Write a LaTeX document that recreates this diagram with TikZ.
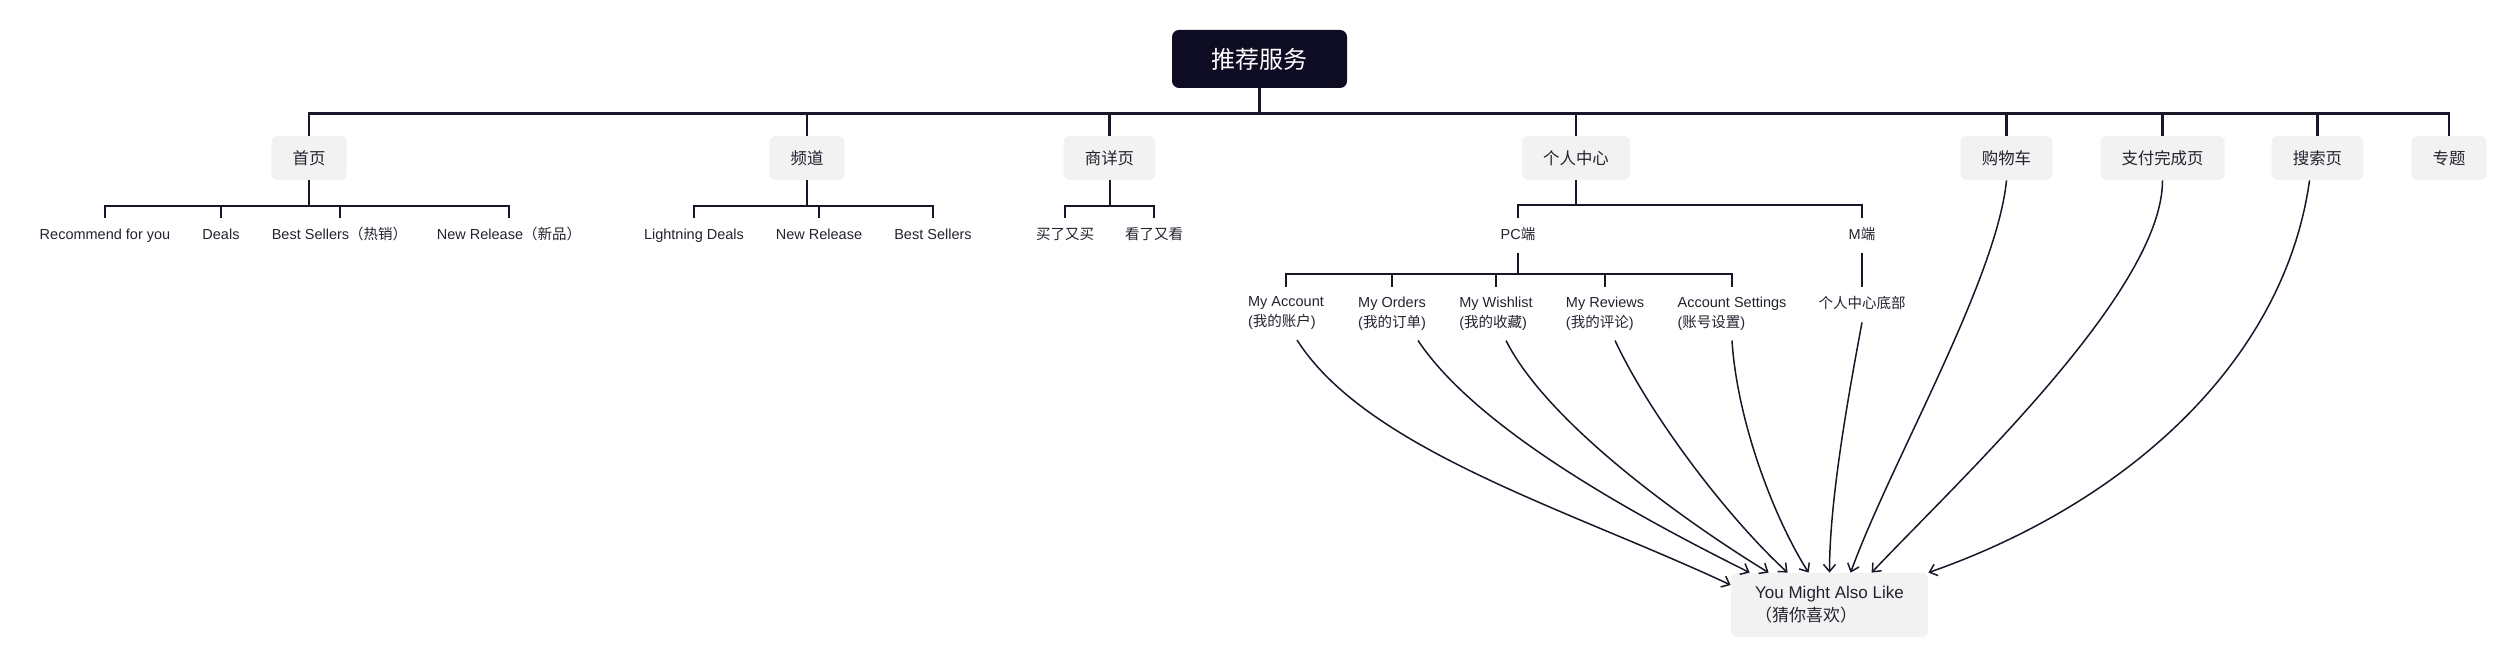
\documentclass[tikz,border=0pt]{standalone}
\usepackage{fontspec}
\setmainfont{Liberation Sans}
\newfontfamily\cjk{Noto Sans CJK SC}
\newcommand{\zh}[1]{{\cjk #1}}
\usetikzlibrary{arrows.meta}
\definecolor{navy}{HTML}{0E0C22}
\definecolor{ink}{HTML}{17172A}
\definecolor{boxgray}{HTML}{F2F2F2}
\definecolor{txt}{HTML}{23232F}
\begin{document}
\begin{tikzpicture}
[x=0.5pt,y=-0.5pt,
 >={Straight Barb[length=3.5pt,width=6pt]},
 rootbox/.style={fill=navy,text=white,rounded corners=3.5pt,minimum width=87.5pt,minimum height=29pt,font=\cjk\fontsize{12}{14}\selectfont},
 pagebox/.style={fill=boxgray,text=txt,rounded corners=3pt,minimum height=22pt,inner xsep=10.6pt,font=\cjk\fontsize{8.2}{10}\selectfont},
 leaftext/.style={text=txt,inner xsep=2pt,inner ysep=5pt,text height=6pt,text depth=1.5pt,font=\fontsize{7.25}{10}\selectfont},
 itemtext/.style={text=txt,align=left,anchor=north,inner xsep=2pt,inner ysep=4.8pt,font=\fontsize{7.25}{10}\selectfont},
 guessbox/.style={fill=boxgray,text=txt,rounded corners=3pt,align=left,minimum width=98.5pt,minimum height=32pt,inner xsep=11pt,font=\fontsize{8.5}{11.5}\selectfont},
 bus/.style={draw=ink,line width=1pt},
 flow/.style={draw=ink,line width=0.75pt,->}]
\useasboundingbox (0,0) rectangle (2517,667);

\node[rootbox] (rec) at (1259.5,59) {推荐服务};
\node[pagebox] (home) at (309,158) {首页};
\node[pagebox] (chan) at (807,158) {频道};
\node[pagebox] (detail) at (1109.5,158) {商详页};
\node[pagebox] (mine) at (1576,158) {个人中心};
\node[pagebox] (cart) at (2006.5,158) {购物车};
\node[pagebox] (paid) at (2162.5,158) {支付完成页};
\node[pagebox] (search) at (2317.5,158) {搜索页};
\node[pagebox] (topic) at (2449,158) {专题};

\node[leaftext] (rfy) at (105,235.5) {Recommend for you};
\node[leaftext] (deals) at (221,235.5) {Deals};
\node[leaftext] (best) at (339.5,235.5) {Best Sellers\zh{（热销）}};
\node[leaftext] (newr) at (509,235.5) {New Release\zh{（新品）}};
\node[leaftext] (light) at (694,235.5) {Lightning Deals};
\node[leaftext] (newc) at (819,235.5) {New Release};
\node[leaftext] (bestc) at (933,235.5) {Best Sellers};
\node[leaftext] (bought) at (1065,235.5) {\zh{买了又买}};
\node[leaftext] (viewed) at (1154,235.5) {\zh{看了又看}};
\node[leaftext] (pc) at (1518,235.5) {PC\zh{端}};
\node[leaftext] (mob) at (1862,235.5) {M\zh{端}};

\node[itemtext] (acct) at (1286,287) {My Account\\(\zh{我的账户})};
\node[itemtext] (orders) at (1392,287) {My Orders\\(\zh{我的订单})};
\node[itemtext] (wish) at (1496,287) {My Wishlist\\(\zh{我的收藏})};
\node[itemtext] (review) at (1605,287) {My Reviews\\(\zh{我的评论})};
\node[itemtext] (setting) at (1732,287) {Account Settings\\(\zh{账号设置})};
\node[leaftext] (bottom) at (1862,304.5) {\zh{个人中心底部}};

\node[guessbox] (like) at (1829.5,605) {You Might Also Like\\\zh{（猜你喜欢）}};

\foreach \p in {home,chan,detail,mine,cart,paid,search,topic}
  \draw[bus,line width=1.3pt] (rec.south) -- ++(0,25) -| (\p.north);
\foreach \l in {rfy,deals,best,newr}
  \draw[bus] (home.south) -- ++(0,26) -| (\l.north);
\foreach \l in {light,newc,bestc}
  \draw[bus] (chan.south) -- ++(0,26) -| (\l.north);
\foreach \l in {bought,viewed}
  \draw[bus] (detail.south) -- ++(0,26) -| (\l.north);
\foreach \l in {pc,mob}
  \draw[bus] (mine.south) -- ++(0,25) -| (\l.north);
\foreach \l in {acct,orders,wish,review,setting}
  \draw[bus] (pc.south) -- ++(0,21) -| (\l.north);
\draw[bus] (mob.south) -- (bottom.north);

\draw[flow] ([xshift=5.5pt]acct.south) .. controls +(70,110) and +(-160,-75) .. ([yshift=10pt]like.west);
\draw[flow] ([xshift=13pt]orders.south) .. controls +(60,90) and +(-110,-55) .. ([xshift=9.5pt]like.north west);
\draw[flow] ([xshift=5pt]wish.south) .. controls +(40,80) and +(-90,-55) .. ([xshift=19pt]like.north west);
\draw[flow] ([xshift=5pt]review.south) .. controls +(35,75) and +(-60,-55) .. ([xshift=28.5pt]like.north west);
\draw[flow] (setting.south) .. controls +(5,80) and +(-35,-55) .. ([xshift=39pt]like.north west);
\draw[flow] (bottom.south) .. controls +(-15,80) and +(0,-70) .. (like.north);
\draw[flow] (cart.south) .. controls +(-10,100) and +(40,-110) .. ([xshift=60pt]like.north west);
\draw[flow] (paid.south) .. controls +(0,110) and +(90,-95) .. ([xshift=70.5pt]like.north west);
\draw[flow] ([xshift=-4pt]search.south) .. controls +(-25,180) and +(200,-70) .. (like.north east);
\end{tikzpicture}
\end{document}
